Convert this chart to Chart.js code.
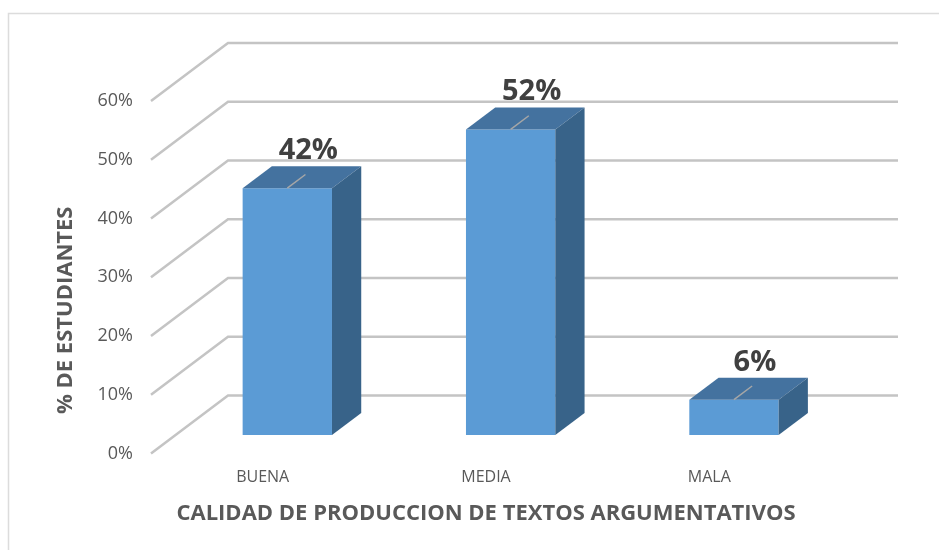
<!DOCTYPE html>
<html>
<head>
<meta charset="utf-8">
<title>Calidad de producción de textos argumentativos</title>
<script src="https://cdn.jsdelivr.net/npm/chart.js@4.4.1/dist/chart.umd.min.js"></script>
<style>
	html, body { margin: 0; padding: 0; background: #ffffff; }
	canvas { display: block; }
</style>
</head>
<body>
<canvas id="chart" width="939" height="550"></canvas>
<script>
(function() {
	'use strict';

	// data
	var categories = ['BUENA', 'MEDIA', 'MALA'];
	var percentages = [42, 52, 6];
	var yMax = 60;
	var yStep = 10;
	var xTitle = 'CALIDAD DE PRODUCCION DE TEXTOS ARGUMENTATIVOS';
	var yTitle = '% DE ESTUDIANTES';

	// 3d look: how far the back wall sits behind the front plane
	var DEPTH_X = 77, DEPTH_Y = 58;
	var BAR_FRONT = 0.32, BAR_BACK = 0.70;

	var GREY = '#595959';
	Chart.defaults.font.family = "'Open Sans', sans-serif";

	var box3d = {
		id: 'box3d',
		beforeDraw: function(chart) {
			var ctx = chart.ctx;
			ctx.save();
			ctx.fillStyle = '#ffffff';
			ctx.fillRect(0, 0, chart.width, chart.height);
			ctx.strokeStyle = '#dcdcdc';
			ctx.lineWidth = 1.5;
			ctx.strokeRect(8.5, 13.5, chart.width + 20, chart.height + 20);
			ctx.restore();
		},
		beforeDatasetsDraw: function(chart) {
			var ctx = chart.ctx, area = chart.chartArea, y = chart.scales.y;
			ctx.save();
			ctx.strokeStyle = '#c4c4c4';
			ctx.lineWidth = 2.5;
			y.ticks.forEach(function(t) {
				var py = y.getPixelForValue(t.value);
				ctx.beginPath();
				ctx.moveTo(area.left, py);
				ctx.lineTo(area.left + DEPTH_X, py - DEPTH_Y);
				ctx.lineTo(area.right + DEPTH_X, py - DEPTH_Y);
				ctx.stroke();
			});
			ctx.restore();
			// bars sit part way into the depth
			ctx.save();
			ctx.translate(DEPTH_X * BAR_FRONT, -DEPTH_Y * BAR_FRONT);
		},
		afterDatasetsDraw: function(chart) {
			var ctx = chart.ctx;
			ctx.restore();
			var fx = DEPTH_X * BAR_FRONT, fy = DEPTH_Y * BAR_FRONT;
			var sx = DEPTH_X * (BAR_BACK - BAR_FRONT), sy = DEPTH_Y * (BAR_BACK - BAR_FRONT);
			var meta = chart.getDatasetMeta(0);
			var values = chart.data.datasets[0].data;

			meta.data.forEach(function(bar, i) {
				var p = bar.getProps(['x', 'y', 'base', 'width'], true);
				var x0 = p.x - p.width / 2 + fx, x1 = p.x + p.width / 2 + fx;
				var top = p.y - fy, bottom = p.base - fy;
				ctx.save();

				ctx.fillStyle = '#44729f';
				ctx.beginPath();
				ctx.moveTo(x0, top);
				ctx.lineTo(x1, top);
				ctx.lineTo(x1 + sx, top - sy);
				ctx.lineTo(x0 + sx, top - sy);
				ctx.closePath();
				ctx.fill();

				ctx.fillStyle = '#386389';
				ctx.beginPath();
				ctx.moveTo(x1, top);
				ctx.lineTo(x1 + sx, top - sy);
				ctx.lineTo(x1 + sx, bottom - sy);
				ctx.lineTo(x1, bottom);
				ctx.closePath();
				ctx.fill();

				// leader line on the top face
				var cx = p.x + fx;
				ctx.strokeStyle = '#a6a6a6';
				ctx.lineWidth = 1.5;
				ctx.beginPath();
				ctx.moveTo(cx, top);
				ctx.lineTo(cx + sx * 0.62, top - sy * 0.62);
				ctx.stroke();

				ctx.fillStyle = '#404040';
				ctx.font = "bold 29px 'Open Sans', sans-serif";
				ctx.textAlign = 'center';
				ctx.textBaseline = 'alphabetic';
				ctx.fillText(values[i] + '%', cx + 21, top - 29);
				ctx.restore();
			});
		},
		afterDraw: function(chart) {
			// y title sits a bit below the middle of the axis, as in excel
			var ctx = chart.ctx, area = chart.chartArea;
			ctx.save();
			ctx.translate(66, (area.top + area.bottom) / 2 + 33);
			ctx.rotate(-Math.PI / 2);
			ctx.fillStyle = GREY;
			ctx.font = "bold 22px 'Open Sans', sans-serif";
			ctx.textAlign = 'center';
			ctx.textBaseline = 'middle';
			ctx.fillText(yTitle, 0, 0);
			ctx.restore();
		}
	};

	var ctx = document.getElementById('chart').getContext('2d');
	new Chart(ctx, {
		type: 'bar',
		data: {
			labels: categories,
			datasets: [{
				data: percentages,
				backgroundColor: '#5b9bd5',
				borderWidth: 0,
				categoryPercentage: 1,
				barPercentage: 0.4
			}]
		},
		options: {
			responsive: false,
			animation: false,
			devicePixelRatio: 1,
			layout: { padding: { top: 101, right: 118, left: 0, bottom: 0 } },
			plugins: {
				legend: { display: false },
				tooltip: { enabled: false }
			},
			scales: {
				x: {
					grid: { display: false, drawTicks: false },
					border: { display: false },
					ticks: { color: GREY, font: { size: 16 }, padding: 14 },
					title: {
						display: true,
						text: xTitle,
						color: GREY,
						font: { size: 22, weight: 'bold' },
						padding: { top: 0, bottom: 23 }
					},
					afterFit: function(scale) { scale.height = 96.5; }
				},
				y: {
					min: 0,
					max: yMax,
					grid: { display: false, drawTicks: false },
					border: { display: false },
					ticks: {
						stepSize: yStep,
						color: GREY,
						font: { size: 18 },
						padding: 18,
						callback: function(v) { return v + '%'; }
					},
					afterFit: function(scale) { scale.width = 151; }
				}
			}
		},
		plugins: [box3d]
	});
})();
</script>
</body>
</html>
